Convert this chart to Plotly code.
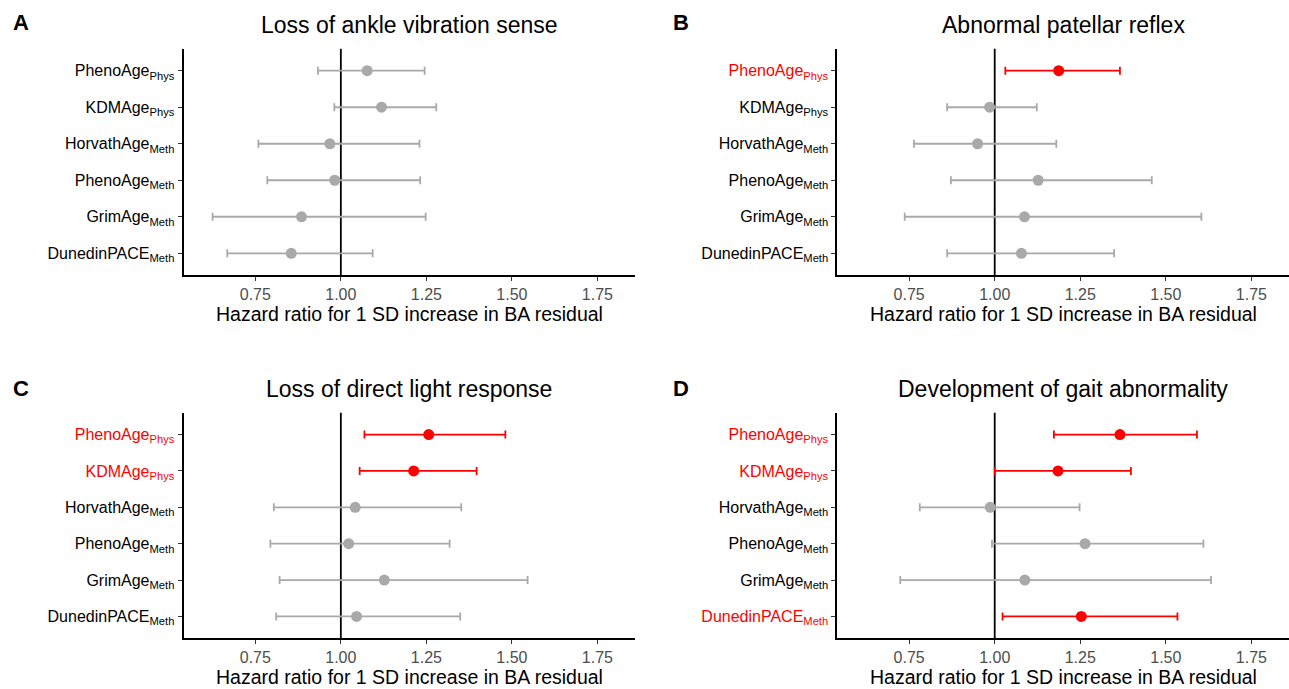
import plotly.graph_objects as go

# ---------------- data ----------------
clock_names = ["PhenoAge", "KDMAge", "HorvathAge", "PhenoAge", "GrimAge", "DunedinPACE"]
clock_subs = ["Phys", "Phys", "Meth", "Meth", "Meth", "Meth"]
clock_keys = [n + "_" + s for n, s in zip(clock_names, clock_subs)]

titles = ["Loss of ankle vibration sense", "Abnormal patellar reflex",
          "Loss of direct light response", "Development of gait abnormality"]
letters = ["A", "B", "C", "D"]

hr_A = [1.077, 1.119, 0.968, 0.982, 0.885, 0.855]
lo_A = [0.933, 0.981, 0.759, 0.785, 0.625, 0.668]
hi_A = [1.245, 1.279, 1.230, 1.232, 1.248, 1.093]
sig_A = [0, 0, 0, 0, 0, 0]

hr_B = [1.187, 0.985, 0.950, 1.127, 1.087, 1.078]
lo_B = [1.031, 0.861, 0.764, 0.872, 0.737, 0.861]
hi_B = [1.366, 1.123, 1.180, 1.459, 1.604, 1.349]
sig_B = [1, 0, 0, 0, 0, 0]

hr_C = [1.257, 1.213, 1.042, 1.023, 1.127, 1.046]
lo_C = [1.069, 1.055, 0.804, 0.794, 0.821, 0.811]
hi_C = [1.481, 1.397, 1.352, 1.318, 1.546, 1.349]
sig_C = [1, 1, 0, 0, 0, 0]

hr_D = [1.366, 1.185, 0.987, 1.264, 1.088, 1.253]
lo_D = [1.173, 1.000, 0.781, 0.992, 0.724, 1.023]
hi_D = [1.591, 1.398, 1.248, 1.610, 1.632, 1.534]
sig_D = [1, 1, 0, 0, 0, 1]

x_ticks = [0.75, 1.00, 1.25, 1.50, 1.75]
x_tick_labels = ["0.75", "1.00", "1.25", "1.50", "1.75"]
x_title = "Hazard ratio for 1 SD increase in BA residual"

panels = [
    (hr_A, lo_A, hi_A, sig_A),
    (hr_B, lo_B, hi_B, sig_B),
    (hr_C, lo_C, hi_C, sig_C),
    (hr_D, lo_D, hi_D, sig_D),
]

# ---------------- layout geometry ----------------
W, H = 1289, 689
FONT = "Liberation Sans, Arial, Helvetica, sans-serif"
GREY = "#a9a9a9"
RED = "#ff0000"

# pixel boxes: (left, right, top, bottom)
boxes = [
    (183.5, 635.0, 48.8, 275.2),
    (837.3, 1289.0, 48.8, 275.2),
    (183.5, 635.0, 412.7, 638.3),
    (837.3, 1289.0, 412.7, 638.3),
]
letter_pos = [(21, 23), (681, 23), (21, 388), (681, 388)]
title_dy = 23.5   # title centre above top of panel row
xtitle_dy = 38.5  # x-axis title centre below bottom of panel

fig = go.Figure()
annotations = []
shapes = []

for i, ((hr, lo, hi, sig), (l, r, t, b)) in enumerate(zip(panels, boxes)):
    ax = "" if i == 0 else str(i + 1)
    xa, ya = "x" + ax, "y" + ax
    for flag, col in [(0, GREY), (1, RED)]:
        idx = [k for k in range(len(hr)) if sig[k] == flag]
        if not idx:
            continue
        fig.add_trace(go.Scatter(
            x=[hr[k] for k in idx],
            y=[clock_keys[k] for k in idx],
            mode="markers",
            marker=dict(color=col, size=11, line=dict(width=0)),
            error_x=dict(type="data", symmetric=False,
                         array=[hi[k] - hr[k] for k in idx],
                         arrayminus=[hr[k] - lo[k] for k in idx],
                         color=col, thickness=1.8, width=4),
            xaxis=xa, yaxis=ya, showlegend=False, hoverinfo="x+y",
        ))
    ticktext = []
    for k in range(len(clock_keys)):
        txt = clock_names[k] + "<sub>" + clock_subs[k] + "</sub>"
        if sig[k]:
            txt = '<span style="color:' + RED + '">' + txt + "</span>"
        ticktext.append(txt)

    fig.update_layout(**{
        "xaxis" + ax: dict(
            domain=[l / W, r / W], anchor=ya, range=[0.54, 1.86],
            tickmode="array", tickvals=x_ticks, ticktext=x_tick_labels,
            showline=True, linecolor="black", linewidth=1.8,
            ticks="outside", ticklen=4, tickwidth=1.2, tickcolor="#333333",
            tickfont=dict(family=FONT, size=16, color="#4d4d4d"),
            showgrid=False, zeroline=False, fixedrange=True,
        ),
        "yaxis" + ax: dict(
            domain=[1 - b / H, 1 - t / H], anchor=xa,
            type="category", categoryorder="array", categoryarray=clock_keys,
            range=[len(clock_keys) - 0.4, -0.6],
            tickmode="array", tickvals=clock_keys, ticktext=ticktext,
            showline=True, linecolor="black", linewidth=1.8,
            ticks="outside", ticklen=4, tickwidth=1.2, tickcolor="#333333",
            tickfont=dict(family=FONT, size=16, color="black"),
            showgrid=False, zeroline=False, fixedrange=True,
        ),
    })
    shapes.append(dict(type="line", xref=xa, yref=ya + " domain",
                       x0=1, x1=1, y0=0, y1=1, layer="below",
                       line=dict(color="black", width=1.8)))
    cx = (l + r) / 2
    annotations.append(dict(text=titles[i], xref="paper", yref="paper",
                            x=cx / W, y=1 - (t - title_dy) / H,
                            xanchor="center", yanchor="middle", showarrow=False,
                            font=dict(family=FONT, size=23, color="black")))
    annotations.append(dict(text=x_title, xref="paper", yref="paper",
                            x=cx / W, y=1 - (b + xtitle_dy) / H,
                            xanchor="center", yanchor="middle", showarrow=False,
                            font=dict(family=FONT, size=19.5, color="black")))
    lx, ly = letter_pos[i]
    annotations.append(dict(text="<b>" + letters[i] + "</b>", xref="paper", yref="paper",
                            x=lx / W, y=1 - ly / H,
                            xanchor="center", yanchor="middle", showarrow=False,
                            font=dict(family=FONT, size=22, color="black")))

fig.update_layout(
    width=W, height=H, margin=dict(l=0, r=0, t=0, b=0),
    paper_bgcolor="white", plot_bgcolor="white",
    annotations=annotations, shapes=shapes,
    font=dict(family=FONT),
)

fig.write_html("out.html", config={"displayModeBar": False},
               post_script="document.body.style.margin='0';document.body.style.overflow='hidden';")
